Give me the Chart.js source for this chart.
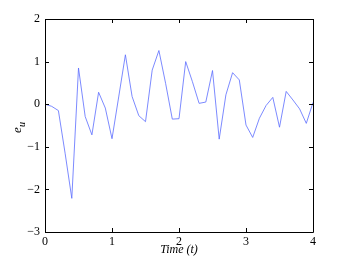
<!DOCTYPE html>
<html><head><meta charset="utf-8">
<script src="https://cdn.jsdelivr.net/npm/chart.js@4"></script>
<style>html,body{margin:0;padding:0;background:#fff}#wrap{width:346px;height:260px}</style>
</head><body><div id="wrap"><canvas id="c" width="346" height="260"></canvas></div>
<script>
const timeValues = [0,0.1,0.2,0.3,0.4,0.5,0.6,0.7,0.8,0.9,1.0,1.1,1.2,1.3,1.4,1.5,1.6,1.7,1.8,1.9,2.0,2.1,2.2,2.3,2.4,2.5,2.6,2.7,2.8,2.9,3.0,3.1,3.2,3.3,3.4,3.5,3.6,3.7,3.8,3.9,4.0];
const euValues = [0.0,-0.05,-0.15,-1.15,-2.21,0.85,-0.29,-0.72,0.28,-0.09,-0.81,0.17,1.16,0.18,-0.27,-0.41,0.8,1.26,0.49,-0.35,-0.34,1.0,0.53,0.02,0.05,0.79,-0.82,0.22,0.74,0.57,-0.49,-0.78,-0.33,-0.03,0.16,-0.54,0.3,0.1,-0.11,-0.45,0.04];
const xTicks = [0,1,2,3,4];
const yTicks = [-3,-2,-1,0,1,2];
const xLabel = 'Time (t)';
const yLabelMain = 'e';
const yLabelSub = 'u';

const font = '"Liberation Serif","Times New Roman",serif';

const boxPlugin = {
  id: 'box',
  afterDraw(chart) {
    const ctx = chart.ctx, a = chart.chartArea;
    const xs = chart.scales.x, ys = chart.scales.y;
    ctx.save();
    ctx.strokeStyle = '#000';
    ctx.lineWidth = 1;
    ctx.beginPath();
    ctx.rect(Math.round(a.left)+0.5, Math.round(a.top)+0.5, Math.round(a.right-a.left), Math.round(a.bottom-a.top));
    ctx.stroke();
    const L = 4;
    ctx.beginPath();
    xTicks.forEach(v => {
      const px = Math.round(xs.getPixelForValue(v)) + 0.5;
      ctx.moveTo(px, a.bottom); ctx.lineTo(px, a.bottom - L);
      ctx.moveTo(px, a.top); ctx.lineTo(px, a.top + L);
    });
    yTicks.forEach(v => {
      const py = Math.round(ys.getPixelForValue(v)) + 0.5;
      ctx.moveTo(a.left, py); ctx.lineTo(a.left + L, py);
      ctx.moveTo(a.right, py); ctx.lineTo(a.right - L, py);
    });
    ctx.stroke();
    ctx.fillStyle = '#000';
    ctx.font = 'italic 12px ' + font;
    ctx.textAlign = 'center';
    ctx.textBaseline = 'middle';
    ctx.fillText(xLabel, (a.left + a.right) / 2, 250);
    ctx.translate(18, (a.top + a.bottom) / 2 + 2);
    ctx.rotate(-Math.PI / 2);
    ctx.textAlign = 'left';
    ctx.font = 'italic 13px ' + font;
    const w = ctx.measureText(yLabelMain).width;
    ctx.font = 'italic 10px ' + font;
    const w2 = ctx.measureText(yLabelSub).width;
    const start = -(w + w2) / 2;
    ctx.font = 'italic 13px ' + font;
    ctx.fillText(yLabelMain, start, 0);
    ctx.font = 'italic 10px ' + font;
    ctx.fillText(yLabelSub, start + w, 4);
    ctx.restore();
  }
};

const fmt = v => (v < 0 ? '\u2212' + Math.abs(v) : String(v));

new Chart(document.getElementById('c'), {
  type: 'line',
  data: {
    labels: timeValues,
    datasets: [{
      data: timeValues.map((t, i) => ({x: t, y: euValues[i]})),
      borderColor: '#5a6cff',
      borderWidth: 0.8,
      pointRadius: 0,
      tension: 0,
      fill: false
    }]
  },
  options: {
    responsive: false,
    animation: false,
    events: [],
    layout: { padding: { left: 0, right: 33, top: 19, bottom: 0 } },
    plugins: { legend: { display: false }, tooltip: { enabled: false } },
    scales: {
      x: {
        type: 'linear', min: 0, max: 4,
        afterBuildTicks(s) { s.ticks = xTicks.map(v => ({value: v})); },
        afterFit(s) { s.height = 28; },
        grid: { display: false, drawTicks: false },
        border: { display: false },
        ticks: { color: '#000', font: { family: font, size: 12 }, padding: 3, maxRotation: 0, callback: fmt }
      },
      y: {
        type: 'linear', min: -3, max: 2,
        afterBuildTicks(s) { s.ticks = yTicks.map(v => ({value: v})); },
        afterFit(s) { s.width = 45; },
        grid: { display: false, drawTicks: false },
        border: { display: false },
        ticks: { color: '#000', font: { family: font, size: 12 }, padding: 5, callback: fmt }
      }
    }
  },
  plugins: [boxPlugin]
});
</script>
</body></html>
